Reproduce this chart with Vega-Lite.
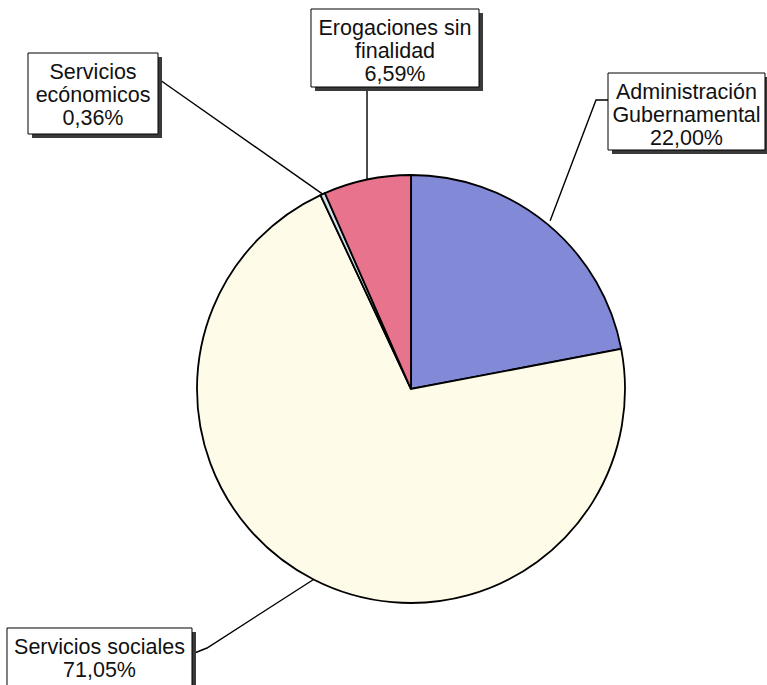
{
  "$schema": "https://vega.github.io/schema/vega-lite/v6.json",
  "width": 767,
  "height": 685,
  "autosize": {"type": "none"},
  "padding": 0,
  "background": "white",
  "config": {"view": {"stroke": null}},
  "datasets": {
    "sectores": [
      {"nombre": "Administración Gubernamental", "texto": "Administración\nGubernamental", "pct": 22.00, "orden": 1},
      {"nombre": "Servicios sociales", "texto": "Servicios sociales", "pct": 71.05, "orden": 2},
      {"nombre": "Servicios económicos", "texto": "Servicios\necónomicos", "pct": 0.36, "orden": 3},
      {"nombre": "Erogaciones sin finalidad", "texto": "Erogaciones sin\nfinalidad", "pct": 6.59, "orden": 4}
    ],
    "cajas": [
      {"nombre": "Administración Gubernamental", "x1": 0.9206, "x2": 1.6542, "y1": 1.4766, "y2": 1.1168},
      {"nombre": "Servicios sociales", "x1": -1.8879, "x2": -1.0234, "y1": -1.1168, "y2": -1.4065},
      {"nombre": "Servicios económicos", "x1": -1.7897, "x2": -1.1822, "y1": 1.5701, "y2": 1.1916},
      {"nombre": "Erogaciones sin finalidad", "x1": -0.4673, "x2": 0.3178, "y1": 1.7757, "y2": 1.4112}
    ],
    "guias": [
      {"nombre": "Administración Gubernamental", "paso": 1, "gx": 0.6502, "gy": 0.7859},
      {"nombre": "Administración Gubernamental", "paso": 2, "gx": 0.8645, "gy": 1.3505},
      {"nombre": "Administración Gubernamental", "paso": 3, "gx": 0.9206, "gy": 1.3505},
      {"nombre": "Servicios sociales", "paso": 1, "gx": -0.4554, "gy": -0.8903},
      {"nombre": "Servicios sociales", "paso": 2, "gx": -0.9533, "gy": -1.2103},
      {"nombre": "Servicios sociales", "paso": 3, "gx": -1.0234, "gy": -1.2383},
      {"nombre": "Servicios económicos", "paso": 1, "gx": -0.4127, "gy": 0.9109},
      {"nombre": "Servicios económicos", "paso": 2, "gx": -1.1729, "gy": 1.4439},
      {"nombre": "Erogaciones sin finalidad", "paso": 1, "gx": -0.2055, "gy": 0.9786},
      {"nombre": "Erogaciones sin finalidad", "paso": 2, "gx": -0.2055, "gy": 1.4112}
    ]
  },
  "layer": [
    {
      "data": {"name": "sectores"},
      "mark": {"type": "arc", "outerRadius": 214, "stroke": "black", "strokeWidth": 1.8},
      "encoding": {
        "x": {"datum": 0, "type": "quantitative", "scale": {"domain": [-1.9206, 1.6636], "nice": false, "zero": false}, "axis": null},
        "y": {"datum": 0, "type": "quantitative", "scale": {"domain": [-1.3832, 1.8178], "nice": false, "zero": false}, "axis": null},
        "theta": {"field": "pct", "type": "quantitative", "stack": true},
        "order": {"field": "orden", "type": "quantitative"},
        "color": {
          "field": "nombre", "type": "nominal", "legend": null,
          "scale": {
            "domain": ["Administración Gubernamental", "Servicios sociales", "Servicios económicos", "Erogaciones sin finalidad"],
            "range": ["#8289d6", "#fefbe8", "#cfe0ea", "#e8738d"]
          }
        }
      }
    },
    {
      "data": {"name": "guias"},
      "mark": {"type": "line", "color": "black", "strokeWidth": 1.4},
      "encoding": {
        "x": {"field": "gx", "type": "quantitative", "scale": {"domain": [-1.9206, 1.6636], "nice": false, "zero": false}, "axis": null},
        "y": {"field": "gy", "type": "quantitative", "scale": {"domain": [-1.3832, 1.8178], "nice": false, "zero": false}, "axis": null},
        "detail": {"field": "nombre", "type": "nominal"},
        "order": {"field": "paso", "type": "quantitative"}
      }
    },
    {
      "data": {"name": "cajas"},
      "transform": [
        {"calculate": "datum.x1 + 0.0187", "as": "sx1"},
        {"calculate": "datum.x2 + 0.0187", "as": "sx2"},
        {"calculate": "datum.y1 - 0.0187", "as": "sy1"},
        {"calculate": "datum.y2 - 0.0187", "as": "sy2"}
      ],
      "mark": {"type": "rect", "fill": "#3a3a3a"},
      "encoding": {
        "x": {"field": "sx1", "type": "quantitative", "axis": null},
        "x2": {"field": "sx2"},
        "y": {"field": "sy1", "type": "quantitative", "axis": null},
        "y2": {"field": "sy2"}
      }
    },
    {
      "data": {"name": "cajas"},
      "mark": {"type": "rect", "fill": "white", "stroke": "black", "strokeWidth": 1},
      "encoding": {
        "x": {"field": "x1", "type": "quantitative", "axis": null},
        "x2": {"field": "x2"},
        "y": {"field": "y1", "type": "quantitative", "axis": null},
        "y2": {"field": "y2"}
      }
    },
    {
      "data": {"name": "sectores"},
      "transform": [
        {"lookup": "nombre", "from": {"data": {"name": "cajas"}, "key": "nombre", "fields": ["x1", "x2", "y1", "y2"]}},
        {"calculate": "(datum.x1 + datum.x2) / 2", "as": "cx"},
        {"calculate": "datum.texto + '\\n' + replace(format(datum.pct, '.2f'), '.', ',') + '%'", "as": "etiqueta"}
      ],
      "mark": {"type": "text", "font": "Liberation Sans", "fontSize": 21.5, "lineHeight": 23, "lineBreak": "\n", "align": "center", "baseline": "top", "color": "#111111", "dy": 9},
      "encoding": {
        "x": {"field": "cx", "type": "quantitative", "axis": null},
        "y": {"field": "y1", "type": "quantitative", "axis": null},
        "text": {"field": "etiqueta", "type": "nominal"}
      }
    }
  ]
}
